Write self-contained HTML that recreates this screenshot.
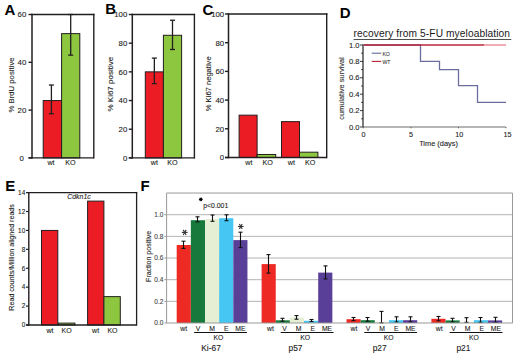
<!DOCTYPE html>
<html><head><meta charset="utf-8"><style>
html,body{margin:0;padding:0;background:#fff;}
svg{display:block;font-family:"Liberation Sans",sans-serif;}

</style></head><body>
<svg width="520" height="358" viewBox="0 0 520 358">
<rect width="520" height="358" fill="#fff"/>
<rect x="43.20" y="100.54" width="18.40" height="57.36" fill="#ec1c24" stroke="#231f20" stroke-width="1"/>
<rect x="61.60" y="33.62" width="18.20" height="124.28" fill="#8dc63f" stroke="#231f20" stroke-width="1"/>
<line x1="51.40" y1="85.00" x2="51.40" y2="113.69" stroke="#231f20" stroke-width="1.3" />
<line x1="48.90" y1="85.00" x2="53.90" y2="85.00" stroke="#231f20" stroke-width="1.3" />
<line x1="48.90" y1="113.69" x2="53.90" y2="113.69" stroke="#231f20" stroke-width="1.3" />
<line x1="70.70" y1="14.50" x2="70.70" y2="55.13" stroke="#231f20" stroke-width="1.3" />
<line x1="68.20" y1="14.50" x2="73.20" y2="14.50" stroke="#231f20" stroke-width="1.3" />
<line x1="68.20" y1="55.13" x2="73.20" y2="55.13" stroke="#231f20" stroke-width="1.3" />
<line x1="32.00" y1="14.50" x2="93.80" y2="14.50" stroke="#231f20" stroke-width="1.4" stroke-linecap="square"/>
<line x1="93.80" y1="14.50" x2="93.80" y2="157.90" stroke="#231f20" stroke-width="1.4" stroke-linecap="square"/>
<line x1="28.50" y1="157.90" x2="93.80" y2="157.90" stroke="#231f20" stroke-width="1.4" />
<line x1="32.00" y1="14.50" x2="32.00" y2="157.90" stroke="#231f20" stroke-width="1.5" stroke-linecap="square"/>
<line x1="28.50" y1="157.90" x2="32.00" y2="157.90" stroke="#231f20" stroke-width="1.4" />
<text x="23.80" y="160.70" font-size="7.8" text-anchor="end" fill="#222" stroke="#222" stroke-width="0.1" font-weight="normal" font-style="normal" >0</text>
<line x1="28.50" y1="110.10" x2="32.00" y2="110.10" stroke="#231f20" stroke-width="1.4" />
<text x="26.30" y="112.90" font-size="7.8" text-anchor="end" fill="#222" stroke="#222" stroke-width="0.1" font-weight="normal" font-style="normal" >20</text>
<line x1="28.50" y1="62.30" x2="32.00" y2="62.30" stroke="#231f20" stroke-width="1.4" />
<text x="26.30" y="65.10" font-size="7.8" text-anchor="end" fill="#222" stroke="#222" stroke-width="0.1" font-weight="normal" font-style="normal" >40</text>
<line x1="28.50" y1="14.50" x2="32.00" y2="14.50" stroke="#231f20" stroke-width="1.4" />
<text x="26.30" y="17.30" font-size="7.8" text-anchor="end" fill="#222" stroke="#222" stroke-width="0.1" font-weight="normal" font-style="normal" >60</text>
<text x="51.00" y="165.40" font-size="7.2" text-anchor="middle" fill="#231f20" stroke="#231f20" stroke-width="0.1" font-weight="normal" font-style="normal" >wt</text>
<text x="70.50" y="165.40" font-size="7.2" text-anchor="middle" fill="#231f20" stroke="#231f20" stroke-width="0.1" font-weight="normal" font-style="normal" >KO</text>
<text x="4.60" y="14.60" font-size="15" text-anchor="start" fill="#000" stroke="#000" stroke-width="0" font-weight="bold" font-style="normal" >A</text>
<text transform="translate(13.50,85.00) rotate(-90)" font-size="7.75" text-anchor="middle" fill="#222" stroke="#222" stroke-width="0.1">% BrdU positive</text>
<rect x="145.30" y="71.86" width="18.10" height="86.04" fill="#ec1c24" stroke="#231f20" stroke-width="1"/>
<rect x="163.40" y="35.29" width="18.20" height="122.61" fill="#8dc63f" stroke="#231f20" stroke-width="1"/>
<line x1="154.35" y1="58.09" x2="154.35" y2="83.62" stroke="#231f20" stroke-width="1.3" />
<line x1="151.85" y1="58.09" x2="156.85" y2="58.09" stroke="#231f20" stroke-width="1.3" />
<line x1="151.85" y1="83.62" x2="156.85" y2="83.62" stroke="#231f20" stroke-width="1.3" />
<line x1="172.50" y1="20.24" x2="172.50" y2="49.49" stroke="#231f20" stroke-width="1.3" />
<line x1="170.00" y1="20.24" x2="175.00" y2="20.24" stroke="#231f20" stroke-width="1.3" />
<line x1="170.00" y1="49.49" x2="175.00" y2="49.49" stroke="#231f20" stroke-width="1.3" />
<line x1="132.30" y1="14.50" x2="194.40" y2="14.50" stroke="#231f20" stroke-width="1.4" stroke-linecap="square"/>
<line x1="194.40" y1="14.50" x2="194.40" y2="157.90" stroke="#231f20" stroke-width="1.4" stroke-linecap="square"/>
<line x1="128.80" y1="157.90" x2="194.40" y2="157.90" stroke="#231f20" stroke-width="1.4" />
<line x1="132.30" y1="14.50" x2="132.30" y2="157.90" stroke="#231f20" stroke-width="1.5" stroke-linecap="square"/>
<line x1="128.80" y1="157.90" x2="132.30" y2="157.90" stroke="#231f20" stroke-width="1.4" />
<text x="127.30" y="160.70" font-size="7.8" text-anchor="end" fill="#222" stroke="#222" stroke-width="0.1" font-weight="normal" font-style="normal" >0</text>
<line x1="128.80" y1="129.22" x2="132.30" y2="129.22" stroke="#231f20" stroke-width="1.4" />
<text x="127.30" y="132.02" font-size="7.8" text-anchor="end" fill="#222" stroke="#222" stroke-width="0.1" font-weight="normal" font-style="normal" >20</text>
<line x1="128.80" y1="100.54" x2="132.30" y2="100.54" stroke="#231f20" stroke-width="1.4" />
<text x="127.30" y="103.34" font-size="7.8" text-anchor="end" fill="#222" stroke="#222" stroke-width="0.1" font-weight="normal" font-style="normal" >40</text>
<line x1="128.80" y1="71.86" x2="132.30" y2="71.86" stroke="#231f20" stroke-width="1.4" />
<text x="127.30" y="74.66" font-size="7.8" text-anchor="end" fill="#222" stroke="#222" stroke-width="0.1" font-weight="normal" font-style="normal" >60</text>
<line x1="128.80" y1="43.18" x2="132.30" y2="43.18" stroke="#231f20" stroke-width="1.4" />
<text x="127.30" y="45.98" font-size="7.8" text-anchor="end" fill="#222" stroke="#222" stroke-width="0.1" font-weight="normal" font-style="normal" >80</text>
<line x1="128.80" y1="14.50" x2="132.30" y2="14.50" stroke="#231f20" stroke-width="1.4" />
<text x="127.30" y="17.30" font-size="7.8" text-anchor="end" fill="#222" stroke="#222" stroke-width="0.1" font-weight="normal" font-style="normal" >100</text>
<text x="154.30" y="165.40" font-size="7.2" text-anchor="middle" fill="#231f20" stroke="#231f20" stroke-width="0.1" font-weight="normal" font-style="normal" >wt</text>
<text x="172.50" y="165.40" font-size="7.2" text-anchor="middle" fill="#231f20" stroke="#231f20" stroke-width="0.1" font-weight="normal" font-style="normal" >KO</text>
<text x="105.20" y="13.80" font-size="15" text-anchor="start" fill="#000" stroke="#000" stroke-width="0" font-weight="bold" font-style="normal" >B</text>
<text transform="translate(112.80,84.20) rotate(-90)" font-size="8.0" text-anchor="middle" fill="#222" stroke="#222" stroke-width="0.1">% Ki67 positive</text>
<rect x="239.10" y="115.17" width="18.00" height="42.33" fill="#ec1c24" stroke="#231f20" stroke-width="1"/>
<rect x="257.10" y="154.49" width="18.60" height="3.01" fill="#8dc63f" stroke="#231f20" stroke-width="1"/>
<rect x="281.50" y="121.62" width="18.00" height="35.88" fill="#ec1c24" stroke="#231f20" stroke-width="1"/>
<rect x="299.50" y="152.19" width="18.40" height="5.31" fill="#8dc63f" stroke="#231f20" stroke-width="1"/>
<line x1="228.50" y1="14.00" x2="326.70" y2="14.00" stroke="#231f20" stroke-width="1.4" stroke-linecap="square"/>
<line x1="326.70" y1="14.00" x2="326.70" y2="157.50" stroke="#231f20" stroke-width="1.4" stroke-linecap="square"/>
<line x1="225.00" y1="157.50" x2="326.70" y2="157.50" stroke="#231f20" stroke-width="1.4" />
<line x1="228.50" y1="14.00" x2="228.50" y2="157.50" stroke="#231f20" stroke-width="1.5" stroke-linecap="square"/>
<line x1="225.00" y1="157.50" x2="228.50" y2="157.50" stroke="#231f20" stroke-width="1.4" />
<text x="224.20" y="160.30" font-size="7.8" text-anchor="end" fill="#222" stroke="#222" stroke-width="0.1" font-weight="normal" font-style="normal" >0</text>
<line x1="225.00" y1="128.80" x2="228.50" y2="128.80" stroke="#231f20" stroke-width="1.4" />
<text x="224.20" y="131.60" font-size="7.8" text-anchor="end" fill="#222" stroke="#222" stroke-width="0.1" font-weight="normal" font-style="normal" >20</text>
<line x1="225.00" y1="100.10" x2="228.50" y2="100.10" stroke="#231f20" stroke-width="1.4" />
<text x="224.20" y="102.90" font-size="7.8" text-anchor="end" fill="#222" stroke="#222" stroke-width="0.1" font-weight="normal" font-style="normal" >40</text>
<line x1="225.00" y1="71.40" x2="228.50" y2="71.40" stroke="#231f20" stroke-width="1.4" />
<text x="224.20" y="74.20" font-size="7.8" text-anchor="end" fill="#222" stroke="#222" stroke-width="0.1" font-weight="normal" font-style="normal" >60</text>
<line x1="225.00" y1="42.70" x2="228.50" y2="42.70" stroke="#231f20" stroke-width="1.4" />
<text x="224.20" y="45.50" font-size="7.8" text-anchor="end" fill="#222" stroke="#222" stroke-width="0.1" font-weight="normal" font-style="normal" >80</text>
<line x1="225.00" y1="14.00" x2="228.50" y2="14.00" stroke="#231f20" stroke-width="1.4" />
<text x="224.20" y="16.80" font-size="7.8" text-anchor="end" fill="#222" stroke="#222" stroke-width="0.1" font-weight="normal" font-style="normal" >100</text>
<text x="248.80" y="165.00" font-size="7.2" text-anchor="middle" fill="#231f20" stroke="#231f20" stroke-width="0.1" font-weight="normal" font-style="normal" >wt</text>
<text x="267.60" y="165.00" font-size="7.2" text-anchor="middle" fill="#231f20" stroke="#231f20" stroke-width="0.1" font-weight="normal" font-style="normal" >KO</text>
<text x="291.30" y="165.00" font-size="7.2" text-anchor="middle" fill="#231f20" stroke="#231f20" stroke-width="0.1" font-weight="normal" font-style="normal" >wt</text>
<text x="310.20" y="165.00" font-size="7.2" text-anchor="middle" fill="#231f20" stroke="#231f20" stroke-width="0.1" font-weight="normal" font-style="normal" >KO</text>
<text x="202.60" y="14.60" font-size="15" text-anchor="start" fill="#000" stroke="#000" stroke-width="0" font-weight="bold" font-style="normal" >C</text>
<text transform="translate(210.60,83.80) rotate(-90)" font-size="7.6" text-anchor="middle" fill="#222" stroke="#222" stroke-width="0.1">% Ki67 negative</text>
<text x="339.80" y="17.80" font-size="15" text-anchor="start" fill="#000" stroke="#000" stroke-width="0" font-weight="bold" font-style="normal" >D</text>
<text x="353.60" y="37.30" font-size="10.2" text-anchor="start" fill="#1a1a1a" stroke="#1a1a1a" stroke-width="0" font-weight="normal" font-style="normal" textLength="156.4" lengthAdjust="spacing">recovery from 5-FU myeloablation</text>
<line x1="353.60" y1="39.50" x2="511.30" y2="39.50" stroke="#222" stroke-width="0.8" />
<line x1="363.00" y1="44.50" x2="363.00" y2="127.00" stroke="#222" stroke-width="1.2" />
<line x1="360.00" y1="127.00" x2="363.00" y2="127.00" stroke="#222" stroke-width="0.9" />
<line x1="361.20" y1="118.80" x2="363.00" y2="118.80" stroke="#222" stroke-width="0.9" />
<line x1="360.00" y1="110.60" x2="363.00" y2="110.60" stroke="#222" stroke-width="0.9" />
<line x1="361.20" y1="102.40" x2="363.00" y2="102.40" stroke="#222" stroke-width="0.9" />
<line x1="360.00" y1="94.20" x2="363.00" y2="94.20" stroke="#222" stroke-width="0.9" />
<line x1="361.20" y1="86.00" x2="363.00" y2="86.00" stroke="#222" stroke-width="0.9" />
<line x1="360.00" y1="77.80" x2="363.00" y2="77.80" stroke="#222" stroke-width="0.9" />
<line x1="361.20" y1="69.60" x2="363.00" y2="69.60" stroke="#222" stroke-width="0.9" />
<line x1="360.00" y1="61.40" x2="363.00" y2="61.40" stroke="#222" stroke-width="0.9" />
<line x1="361.20" y1="53.20" x2="363.00" y2="53.20" stroke="#222" stroke-width="0.9" />
<line x1="360.00" y1="45.00" x2="363.00" y2="45.00" stroke="#222" stroke-width="0.9" />
<text x="359.50" y="129.60" font-size="7.6" text-anchor="end" fill="#222" stroke="#222" stroke-width="0.1" font-weight="normal" font-style="normal" >0.0</text>
<text x="359.50" y="113.20" font-size="7.6" text-anchor="end" fill="#222" stroke="#222" stroke-width="0.1" font-weight="normal" font-style="normal" >0.2</text>
<text x="359.50" y="96.80" font-size="7.6" text-anchor="end" fill="#222" stroke="#222" stroke-width="0.1" font-weight="normal" font-style="normal" >0.4</text>
<text x="359.50" y="80.40" font-size="7.6" text-anchor="end" fill="#222" stroke="#222" stroke-width="0.1" font-weight="normal" font-style="normal" >0.6</text>
<text x="359.50" y="64.00" font-size="7.6" text-anchor="end" fill="#222" stroke="#222" stroke-width="0.1" font-weight="normal" font-style="normal" >0.8</text>
<text x="359.50" y="47.60" font-size="7.6" text-anchor="end" fill="#222" stroke="#222" stroke-width="0.1" font-weight="normal" font-style="normal" >1.0</text>
<line x1="363.00" y1="127.00" x2="505.80" y2="127.00" stroke="#6a6a6a" stroke-width="1.2" />
<line x1="363.50" y1="127.00" x2="363.50" y2="128.30" stroke="#555" stroke-width="0.9" />
<text x="363.50" y="136.50" font-size="7.2" text-anchor="middle" fill="#222" stroke="#222" stroke-width="0.1" font-weight="normal" font-style="normal" >0</text>
<line x1="411.00" y1="127.00" x2="411.00" y2="128.30" stroke="#555" stroke-width="0.9" />
<text x="411.00" y="136.50" font-size="7.2" text-anchor="middle" fill="#222" stroke="#222" stroke-width="0.1" font-weight="normal" font-style="normal" >5</text>
<line x1="458.50" y1="127.00" x2="458.50" y2="128.30" stroke="#555" stroke-width="0.9" />
<text x="459.30" y="136.50" font-size="7.2" text-anchor="middle" fill="#222" stroke="#222" stroke-width="0.1" font-weight="normal" font-style="normal" >10</text>
<line x1="506.00" y1="127.00" x2="506.00" y2="128.30" stroke="#555" stroke-width="0.9" />
<text x="507.50" y="136.50" font-size="7.2" text-anchor="middle" fill="#222" stroke="#222" stroke-width="0.1" font-weight="normal" font-style="normal" >15</text>
<text x="438.50" y="145.60" font-size="7.4" text-anchor="middle" fill="#222" stroke="#222" stroke-width="0.1" font-weight="normal" font-style="normal" >Time (days)</text>
<text transform="translate(344.30,88.50) rotate(-90)" font-size="7.4" text-anchor="middle" fill="#333" stroke="#333" stroke-width="0.1">cumulative survival</text>
<polyline fill="none" stroke="#6b6d9e" stroke-width="1.3" points="363.50,45.00 420.50,45.00 420.50,61.40 439.50,61.40 439.50,69.60 458.50,69.60 458.50,85.59 477.50,85.59 477.50,102.40 506.00,102.40"/>
<line x1="363.50" y1="45.00" x2="484.15" y2="45.00" stroke="#b82838" stroke-width="1.4"/>
<line x1="484.15" y1="45.00" x2="506.00" y2="45.00" stroke="#e8808e" stroke-width="1.3"/>
<line x1="371.70" y1="53.20" x2="381.20" y2="53.20" stroke="#5a6a9a" stroke-width="1.1" />
<text x="382.40" y="55.50" font-size="5.2" text-anchor="start" fill="#111" stroke="#111" stroke-width="0" font-weight="normal" font-style="normal" >KO</text>
<line x1="371.70" y1="61.40" x2="381.20" y2="61.40" stroke="#b02030" stroke-width="1.1" />
<text x="382.40" y="63.70" font-size="5.2" text-anchor="start" fill="#111" stroke="#111" stroke-width="0" font-weight="normal" font-style="normal" >WT</text>
<rect x="41.50" y="230.43" width="16.30" height="94.57" fill="#ec1c24" stroke="#231f20" stroke-width="1"/>
<rect x="58.30" y="323.11" width="16.60" height="1.89" fill="#8dc63f" stroke="#231f20" stroke-width="1"/>
<rect x="87.60" y="201.11" width="16.30" height="123.89" fill="#ec1c24" stroke="#231f20" stroke-width="1"/>
<rect x="103.90" y="296.63" width="16.40" height="28.37" fill="#8dc63f" stroke="#231f20" stroke-width="1"/>
<line x1="28.80" y1="192.60" x2="136.60" y2="192.60" stroke="#231f20" stroke-width="1.3" stroke-linecap="square"/>
<line x1="136.60" y1="192.60" x2="136.60" y2="325.00" stroke="#231f20" stroke-width="1.3" stroke-linecap="square"/>
<line x1="26.00" y1="325.00" x2="136.60" y2="325.00" stroke="#231f20" stroke-width="1.3" />
<line x1="28.80" y1="192.60" x2="28.80" y2="325.00" stroke="#231f20" stroke-width="1.4" stroke-linecap="square"/>
<line x1="26.00" y1="325.00" x2="28.80" y2="325.00" stroke="#231f20" stroke-width="1.2" />
<text x="25.20" y="327.30" font-size="6.4" text-anchor="end" fill="#222" stroke="#222" stroke-width="0.1" font-weight="normal" font-style="normal" >0</text>
<line x1="26.00" y1="306.09" x2="28.80" y2="306.09" stroke="#231f20" stroke-width="1.2" />
<text x="25.20" y="308.39" font-size="6.4" text-anchor="end" fill="#222" stroke="#222" stroke-width="0.1" font-weight="normal" font-style="normal" >2</text>
<line x1="26.00" y1="287.17" x2="28.80" y2="287.17" stroke="#231f20" stroke-width="1.2" />
<text x="25.20" y="289.47" font-size="6.4" text-anchor="end" fill="#222" stroke="#222" stroke-width="0.1" font-weight="normal" font-style="normal" >4</text>
<line x1="26.00" y1="268.26" x2="28.80" y2="268.26" stroke="#231f20" stroke-width="1.2" />
<text x="25.20" y="270.56" font-size="6.4" text-anchor="end" fill="#222" stroke="#222" stroke-width="0.1" font-weight="normal" font-style="normal" >6</text>
<line x1="26.00" y1="249.34" x2="28.80" y2="249.34" stroke="#231f20" stroke-width="1.2" />
<text x="25.20" y="251.64" font-size="6.4" text-anchor="end" fill="#222" stroke="#222" stroke-width="0.1" font-weight="normal" font-style="normal" >8</text>
<line x1="26.00" y1="230.43" x2="28.80" y2="230.43" stroke="#231f20" stroke-width="1.2" />
<text x="25.20" y="232.73" font-size="6.4" text-anchor="end" fill="#222" stroke="#222" stroke-width="0.1" font-weight="normal" font-style="normal" >10</text>
<line x1="26.00" y1="211.51" x2="28.80" y2="211.51" stroke="#231f20" stroke-width="1.2" />
<text x="25.20" y="213.81" font-size="6.4" text-anchor="end" fill="#222" stroke="#222" stroke-width="0.1" font-weight="normal" font-style="normal" >12</text>
<line x1="26.00" y1="192.60" x2="28.80" y2="192.60" stroke="#231f20" stroke-width="1.2" />
<text x="25.20" y="194.90" font-size="6.4" text-anchor="end" fill="#222" stroke="#222" stroke-width="0.1" font-weight="normal" font-style="normal" >14</text>
<text x="79.00" y="198.80" font-size="6.9" text-anchor="middle" fill="#222" stroke="#222" stroke-width="0.1" font-weight="normal" font-style="italic" >Cdkn1c</text>
<text x="50.00" y="332.80" font-size="7.0" text-anchor="middle" fill="#231f20" stroke="#231f20" stroke-width="0.1" font-weight="normal" font-style="normal" >wt</text>
<text x="66.60" y="332.80" font-size="7.0" text-anchor="middle" fill="#231f20" stroke="#231f20" stroke-width="0.1" font-weight="normal" font-style="normal" >KO</text>
<text x="95.60" y="332.80" font-size="7.0" text-anchor="middle" fill="#231f20" stroke="#231f20" stroke-width="0.1" font-weight="normal" font-style="normal" >wt</text>
<text x="112.50" y="332.80" font-size="7.0" text-anchor="middle" fill="#231f20" stroke="#231f20" stroke-width="0.1" font-weight="normal" font-style="normal" >KO</text>
<text x="5.20" y="190.70" font-size="15" text-anchor="start" fill="#000" stroke="#000" stroke-width="0" font-weight="bold" font-style="normal" >E</text>
<text transform="translate(14.20,257.40) rotate(-90)" font-size="7.1" text-anchor="middle" fill="#222" stroke="#222" stroke-width="0.1">Read counts/Million aligned reads</text>
<line x1="166.60" y1="301.34" x2="512.50" y2="301.34" stroke="#b4b4b4" stroke-width="1" />
<line x1="166.60" y1="279.68" x2="512.50" y2="279.68" stroke="#b4b4b4" stroke-width="1" />
<line x1="166.60" y1="258.02" x2="512.50" y2="258.02" stroke="#b4b4b4" stroke-width="1" />
<line x1="166.60" y1="236.36" x2="512.50" y2="236.36" stroke="#b4b4b4" stroke-width="1" />
<line x1="166.60" y1="214.70" x2="512.50" y2="214.70" stroke="#b4b4b4" stroke-width="1" />
<line x1="166.60" y1="193.04" x2="512.50" y2="193.04" stroke="#999" stroke-width="1" />
<line x1="512.50" y1="193.04" x2="512.50" y2="323.00" stroke="#999" stroke-width="1" />
<rect x="176.70" y="245.00" width="14.15" height="78.00" fill="#ee2a24" stroke="none" stroke-width="1"/>
<rect x="190.85" y="220.20" width="14.15" height="102.80" fill="#177a3c" stroke="none" stroke-width="1"/>
<rect x="205.00" y="219.00" width="14.15" height="104.00" fill="#e4efd4" stroke="none" stroke-width="1"/>
<rect x="219.15" y="218.20" width="14.15" height="104.80" fill="#45c6f3" stroke="none" stroke-width="1"/>
<rect x="233.30" y="240.10" width="14.15" height="82.90" fill="#5a3f98" stroke="none" stroke-width="1"/>
<rect x="261.60" y="264.10" width="14.15" height="58.90" fill="#ee2a24" stroke="none" stroke-width="1"/>
<rect x="275.75" y="320.30" width="14.15" height="2.70" fill="#177a3c" stroke="none" stroke-width="1"/>
<rect x="289.90" y="317.60" width="14.15" height="5.40" fill="#e4efd4" stroke="none" stroke-width="1"/>
<rect x="304.05" y="320.80" width="14.15" height="2.20" fill="#45c6f3" stroke="none" stroke-width="1"/>
<rect x="318.20" y="272.60" width="14.15" height="50.40" fill="#5a3f98" stroke="none" stroke-width="1"/>
<rect x="346.50" y="319.20" width="14.15" height="3.80" fill="#ee2a24" stroke="none" stroke-width="1"/>
<rect x="360.65" y="320.20" width="14.15" height="2.80" fill="#177a3c" stroke="none" stroke-width="1"/>
<rect x="374.80" y="322.00" width="14.15" height="1.00" fill="#e4efd4" stroke="none" stroke-width="1"/>
<rect x="388.95" y="320.20" width="14.15" height="2.80" fill="#45c6f3" stroke="none" stroke-width="1"/>
<rect x="403.10" y="320.20" width="14.15" height="2.80" fill="#5a3f98" stroke="none" stroke-width="1"/>
<rect x="431.40" y="318.80" width="14.15" height="4.20" fill="#ee2a24" stroke="none" stroke-width="1"/>
<rect x="445.55" y="320.40" width="14.15" height="2.60" fill="#177a3c" stroke="none" stroke-width="1"/>
<rect x="459.70" y="322.00" width="14.15" height="1.00" fill="#e4efd4" stroke="none" stroke-width="1"/>
<rect x="473.85" y="320.20" width="14.15" height="2.80" fill="#45c6f3" stroke="none" stroke-width="1"/>
<rect x="488.00" y="320.40" width="14.15" height="2.60" fill="#5a3f98" stroke="none" stroke-width="1"/>
<line x1="183.50" y1="241.20" x2="183.50" y2="248.40" stroke="#111" stroke-width="1.1" />
<line x1="181.50" y1="241.20" x2="185.50" y2="241.20" stroke="#111" stroke-width="1.1" />
<line x1="181.50" y1="248.40" x2="185.50" y2="248.40" stroke="#111" stroke-width="1.1" />
<line x1="197.50" y1="216.80" x2="197.50" y2="221.90" stroke="#111" stroke-width="1.1" />
<line x1="195.50" y1="216.80" x2="199.50" y2="216.80" stroke="#111" stroke-width="1.1" />
<line x1="195.50" y1="221.90" x2="199.50" y2="221.90" stroke="#111" stroke-width="1.1" />
<line x1="212.50" y1="215.00" x2="212.50" y2="221.30" stroke="#111" stroke-width="1.1" />
<line x1="210.50" y1="215.00" x2="214.50" y2="215.00" stroke="#111" stroke-width="1.1" />
<line x1="210.50" y1="221.30" x2="214.50" y2="221.30" stroke="#111" stroke-width="1.1" />
<line x1="226.50" y1="214.80" x2="226.50" y2="220.70" stroke="#111" stroke-width="1.1" />
<line x1="224.50" y1="214.80" x2="228.50" y2="214.80" stroke="#111" stroke-width="1.1" />
<line x1="224.50" y1="220.70" x2="228.50" y2="220.70" stroke="#111" stroke-width="1.1" />
<line x1="240.50" y1="232.20" x2="240.50" y2="247.60" stroke="#111" stroke-width="1.1" />
<line x1="238.50" y1="232.20" x2="242.50" y2="232.20" stroke="#111" stroke-width="1.1" />
<line x1="238.50" y1="247.60" x2="242.50" y2="247.60" stroke="#111" stroke-width="1.1" />
<line x1="268.50" y1="254.60" x2="268.50" y2="273.10" stroke="#111" stroke-width="1.1" />
<line x1="266.50" y1="254.60" x2="270.50" y2="254.60" stroke="#111" stroke-width="1.1" />
<line x1="266.50" y1="273.10" x2="270.50" y2="273.10" stroke="#111" stroke-width="1.1" />
<line x1="282.50" y1="318.30" x2="282.50" y2="321.20" stroke="#111" stroke-width="1.1" />
<line x1="280.50" y1="318.30" x2="284.50" y2="318.30" stroke="#111" stroke-width="1.1" />
<line x1="280.50" y1="321.20" x2="284.50" y2="321.20" stroke="#111" stroke-width="1.1" />
<line x1="296.50" y1="315.60" x2="296.50" y2="319.20" stroke="#111" stroke-width="1.1" />
<line x1="294.50" y1="315.60" x2="298.50" y2="315.60" stroke="#111" stroke-width="1.1" />
<line x1="294.50" y1="319.20" x2="298.50" y2="319.20" stroke="#111" stroke-width="1.1" />
<line x1="311.50" y1="319.50" x2="311.50" y2="321.60" stroke="#111" stroke-width="1.1" />
<line x1="309.50" y1="319.50" x2="313.50" y2="319.50" stroke="#111" stroke-width="1.1" />
<line x1="309.50" y1="321.60" x2="313.50" y2="321.60" stroke="#111" stroke-width="1.1" />
<line x1="325.50" y1="265.90" x2="325.50" y2="278.90" stroke="#111" stroke-width="1.1" />
<line x1="323.50" y1="265.90" x2="327.50" y2="265.90" stroke="#111" stroke-width="1.1" />
<line x1="323.50" y1="278.90" x2="327.50" y2="278.90" stroke="#111" stroke-width="1.1" />
<line x1="353.50" y1="317.50" x2="353.50" y2="320.60" stroke="#111" stroke-width="1.1" />
<line x1="351.50" y1="317.50" x2="355.50" y2="317.50" stroke="#111" stroke-width="1.1" />
<line x1="351.50" y1="320.60" x2="355.50" y2="320.60" stroke="#111" stroke-width="1.1" />
<line x1="367.50" y1="317.50" x2="367.50" y2="321.20" stroke="#111" stroke-width="1.1" />
<line x1="365.50" y1="317.50" x2="369.50" y2="317.50" stroke="#111" stroke-width="1.1" />
<line x1="365.50" y1="321.20" x2="369.50" y2="321.20" stroke="#111" stroke-width="1.1" />
<line x1="381.50" y1="311.40" x2="381.50" y2="322.90" stroke="#111" stroke-width="1.1" />
<line x1="379.50" y1="311.40" x2="383.50" y2="311.40" stroke="#111" stroke-width="1.1" />
<line x1="379.50" y1="322.90" x2="383.50" y2="322.90" stroke="#111" stroke-width="1.1" />
<line x1="396.50" y1="316.80" x2="396.50" y2="321.90" stroke="#111" stroke-width="1.1" />
<line x1="394.50" y1="316.80" x2="398.50" y2="316.80" stroke="#111" stroke-width="1.1" />
<line x1="394.50" y1="321.90" x2="398.50" y2="321.90" stroke="#111" stroke-width="1.1" />
<line x1="410.50" y1="316.80" x2="410.50" y2="321.90" stroke="#111" stroke-width="1.1" />
<line x1="408.50" y1="316.80" x2="412.50" y2="316.80" stroke="#111" stroke-width="1.1" />
<line x1="408.50" y1="321.90" x2="412.50" y2="321.90" stroke="#111" stroke-width="1.1" />
<line x1="438.50" y1="316.50" x2="438.50" y2="320.80" stroke="#111" stroke-width="1.1" />
<line x1="436.50" y1="316.50" x2="440.50" y2="316.50" stroke="#111" stroke-width="1.1" />
<line x1="436.50" y1="320.80" x2="440.50" y2="320.80" stroke="#111" stroke-width="1.1" />
<line x1="452.50" y1="318.30" x2="452.50" y2="321.90" stroke="#111" stroke-width="1.1" />
<line x1="450.50" y1="318.30" x2="454.50" y2="318.30" stroke="#111" stroke-width="1.1" />
<line x1="450.50" y1="321.90" x2="454.50" y2="321.90" stroke="#111" stroke-width="1.1" />
<line x1="466.50" y1="317.70" x2="466.50" y2="322.30" stroke="#111" stroke-width="1.1" />
<line x1="464.50" y1="317.70" x2="468.50" y2="317.70" stroke="#111" stroke-width="1.1" />
<line x1="464.50" y1="322.30" x2="468.50" y2="322.30" stroke="#111" stroke-width="1.1" />
<line x1="480.50" y1="317.50" x2="480.50" y2="322.30" stroke="#111" stroke-width="1.1" />
<line x1="478.50" y1="317.50" x2="482.50" y2="317.50" stroke="#111" stroke-width="1.1" />
<line x1="478.50" y1="322.30" x2="482.50" y2="322.30" stroke="#111" stroke-width="1.1" />
<line x1="495.50" y1="317.30" x2="495.50" y2="322.30" stroke="#111" stroke-width="1.1" />
<line x1="493.50" y1="317.30" x2="497.50" y2="317.30" stroke="#111" stroke-width="1.1" />
<line x1="493.50" y1="322.30" x2="497.50" y2="322.30" stroke="#111" stroke-width="1.1" />
<line x1="166.60" y1="323.00" x2="512.50" y2="323.00" stroke="#999" stroke-width="1" />
<line x1="166.60" y1="193.04" x2="166.60" y2="323.00" stroke="#999" stroke-width="1" />
<line x1="164.40" y1="323.00" x2="166.60" y2="323.00" stroke="#999" stroke-width="1" />
<text x="163.40" y="325.30" font-size="6.5" text-anchor="end" fill="#444" stroke="#444" stroke-width="0.1" font-weight="normal" font-style="normal" >0.0</text>
<line x1="164.40" y1="301.34" x2="166.60" y2="301.34" stroke="#999" stroke-width="1" />
<text x="163.40" y="303.64" font-size="6.5" text-anchor="end" fill="#444" stroke="#444" stroke-width="0.1" font-weight="normal" font-style="normal" >0.2</text>
<line x1="164.40" y1="279.68" x2="166.60" y2="279.68" stroke="#999" stroke-width="1" />
<text x="163.40" y="281.98" font-size="6.5" text-anchor="end" fill="#444" stroke="#444" stroke-width="0.1" font-weight="normal" font-style="normal" >0.4</text>
<line x1="164.40" y1="258.02" x2="166.60" y2="258.02" stroke="#999" stroke-width="1" />
<text x="163.40" y="260.32" font-size="6.5" text-anchor="end" fill="#444" stroke="#444" stroke-width="0.1" font-weight="normal" font-style="normal" >0.6</text>
<line x1="164.40" y1="236.36" x2="166.60" y2="236.36" stroke="#999" stroke-width="1" />
<text x="163.40" y="238.66" font-size="6.5" text-anchor="end" fill="#444" stroke="#444" stroke-width="0.1" font-weight="normal" font-style="normal" >0.8</text>
<line x1="164.40" y1="214.70" x2="166.60" y2="214.70" stroke="#999" stroke-width="1" />
<text x="163.40" y="217.00" font-size="6.5" text-anchor="end" fill="#444" stroke="#444" stroke-width="0.1" font-weight="normal" font-style="normal" >1.0</text>
<text transform="translate(150.90,256.40) rotate(-90)" font-size="7.0" text-anchor="middle" fill="#222" stroke="#222" stroke-width="0.1">Fraction positive</text>
<text x="140.60" y="190.60" font-size="15" text-anchor="start" fill="#000" stroke="#000" stroke-width="0" font-weight="bold" font-style="normal" >F</text>
<text x="183.77" y="330.80" font-size="6.8" text-anchor="middle" fill="#222" stroke="#222" stroke-width="0.1" font-weight="normal" font-style="normal" >wt</text>
<text x="197.92" y="330.80" font-size="6.8" text-anchor="middle" fill="#222" stroke="#222" stroke-width="0.1" font-weight="normal" font-style="normal" >V</text>
<text x="212.07" y="330.80" font-size="6.8" text-anchor="middle" fill="#222" stroke="#222" stroke-width="0.1" font-weight="normal" font-style="normal" >M</text>
<text x="226.22" y="330.80" font-size="6.8" text-anchor="middle" fill="#222" stroke="#222" stroke-width="0.1" font-weight="normal" font-style="normal" >E</text>
<text x="240.37" y="330.80" font-size="6.8" text-anchor="middle" fill="#222" stroke="#222" stroke-width="0.1" font-weight="normal" font-style="normal" >ME</text>
<line x1="194.15" y1="332.50" x2="246.95" y2="332.50" stroke="#111" stroke-width="1.1" />
<text x="218.45" y="340.20" font-size="6.8" text-anchor="middle" fill="#222" stroke="#222" stroke-width="0.1" font-weight="normal" font-style="normal" >KO</text>
<text x="211.07" y="350.60" font-size="8.4" text-anchor="middle" fill="#222" stroke="#222" stroke-width="0.1" font-weight="normal" font-style="normal" >Ki-67</text>
<text x="270.38" y="330.80" font-size="6.8" text-anchor="middle" fill="#222" stroke="#222" stroke-width="0.1" font-weight="normal" font-style="normal" >wt</text>
<text x="284.52" y="330.80" font-size="6.8" text-anchor="middle" fill="#222" stroke="#222" stroke-width="0.1" font-weight="normal" font-style="normal" >V</text>
<text x="298.68" y="330.80" font-size="6.8" text-anchor="middle" fill="#222" stroke="#222" stroke-width="0.1" font-weight="normal" font-style="normal" >M</text>
<text x="312.82" y="330.80" font-size="6.8" text-anchor="middle" fill="#222" stroke="#222" stroke-width="0.1" font-weight="normal" font-style="normal" >E</text>
<text x="326.98" y="330.80" font-size="6.8" text-anchor="middle" fill="#222" stroke="#222" stroke-width="0.1" font-weight="normal" font-style="normal" >ME</text>
<line x1="280.75" y1="332.50" x2="333.55" y2="332.50" stroke="#111" stroke-width="1.1" />
<text x="305.05" y="340.20" font-size="6.8" text-anchor="middle" fill="#222" stroke="#222" stroke-width="0.1" font-weight="normal" font-style="normal" >KO</text>
<text x="295.48" y="350.60" font-size="8.4" text-anchor="middle" fill="#222" stroke="#222" stroke-width="0.1" font-weight="normal" font-style="normal" >p57</text>
<text x="353.88" y="330.80" font-size="6.8" text-anchor="middle" fill="#222" stroke="#222" stroke-width="0.1" font-weight="normal" font-style="normal" >wt</text>
<text x="368.02" y="330.80" font-size="6.8" text-anchor="middle" fill="#222" stroke="#222" stroke-width="0.1" font-weight="normal" font-style="normal" >V</text>
<text x="382.18" y="330.80" font-size="6.8" text-anchor="middle" fill="#222" stroke="#222" stroke-width="0.1" font-weight="normal" font-style="normal" >M</text>
<text x="396.32" y="330.80" font-size="6.8" text-anchor="middle" fill="#222" stroke="#222" stroke-width="0.1" font-weight="normal" font-style="normal" >E</text>
<text x="410.48" y="330.80" font-size="6.8" text-anchor="middle" fill="#222" stroke="#222" stroke-width="0.1" font-weight="normal" font-style="normal" >ME</text>
<line x1="364.25" y1="332.50" x2="417.05" y2="332.50" stroke="#111" stroke-width="1.1" />
<text x="388.55" y="340.20" font-size="6.8" text-anchor="middle" fill="#222" stroke="#222" stroke-width="0.1" font-weight="normal" font-style="normal" >KO</text>
<text x="379.68" y="350.60" font-size="8.4" text-anchor="middle" fill="#222" stroke="#222" stroke-width="0.1" font-weight="normal" font-style="normal" >p27</text>
<text x="439.27" y="330.80" font-size="6.8" text-anchor="middle" fill="#222" stroke="#222" stroke-width="0.1" font-weight="normal" font-style="normal" >wt</text>
<text x="453.42" y="330.80" font-size="6.8" text-anchor="middle" fill="#222" stroke="#222" stroke-width="0.1" font-weight="normal" font-style="normal" >V</text>
<text x="467.57" y="330.80" font-size="6.8" text-anchor="middle" fill="#222" stroke="#222" stroke-width="0.1" font-weight="normal" font-style="normal" >M</text>
<text x="481.72" y="330.80" font-size="6.8" text-anchor="middle" fill="#222" stroke="#222" stroke-width="0.1" font-weight="normal" font-style="normal" >E</text>
<text x="495.88" y="330.80" font-size="6.8" text-anchor="middle" fill="#222" stroke="#222" stroke-width="0.1" font-weight="normal" font-style="normal" >ME</text>
<line x1="449.65" y1="332.50" x2="502.45" y2="332.50" stroke="#111" stroke-width="1.1" />
<text x="473.95" y="340.20" font-size="6.8" text-anchor="middle" fill="#222" stroke="#222" stroke-width="0.1" font-weight="normal" font-style="normal" >KO</text>
<text x="463.38" y="350.60" font-size="8.4" text-anchor="middle" fill="#222" stroke="#222" stroke-width="0.1" font-weight="normal" font-style="normal" >p21</text>
<line x1="181.80" y1="232.40" x2="187.60" y2="232.40" stroke="#333" stroke-width="1.1" />
<line x1="183.25" y1="229.89" x2="186.15" y2="234.91" stroke="#333" stroke-width="1.1" />
<line x1="186.15" y1="229.89" x2="183.25" y2="234.91" stroke="#333" stroke-width="1.1" />
<line x1="238.00" y1="226.50" x2="243.60" y2="226.50" stroke="#333" stroke-width="1.1" />
<line x1="239.40" y1="224.08" x2="242.20" y2="228.92" stroke="#333" stroke-width="1.1" />
<line x1="242.20" y1="224.08" x2="239.40" y2="228.92" stroke="#333" stroke-width="1.1" />
<line x1="198.90" y1="199.40" x2="202.70" y2="199.40" stroke="#000" stroke-width="1.2" />
<line x1="199.85" y1="197.75" x2="201.75" y2="201.05" stroke="#000" stroke-width="1.2" />
<line x1="201.75" y1="197.75" x2="199.85" y2="201.05" stroke="#000" stroke-width="1.2" />
<circle cx="200.8" cy="199.4" r="0.9" fill="#000"/>
<text x="203.20" y="208.10" font-size="6.9" text-anchor="start" fill="#222" stroke="#222" stroke-width="0.1" font-weight="normal" font-style="normal" >p&lt;0.001</text>
</svg>
</body></html>
